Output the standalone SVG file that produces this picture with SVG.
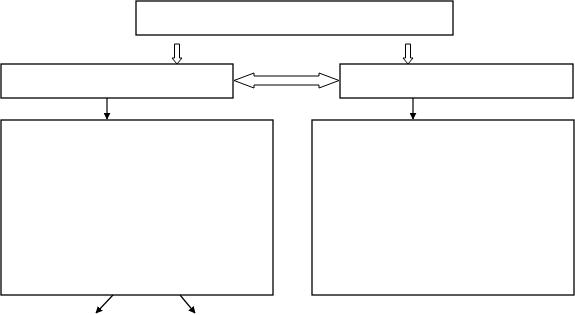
<svg xmlns="http://www.w3.org/2000/svg" width="575" height="315" viewBox="0 0 575 315">
<style>
.box{fill:#fff;stroke:#000;stroke-width:1.3}
.hollow{fill:#fff;stroke:#000;stroke-width:1}
.line{stroke:#000;stroke-width:1.2;fill:none}
</style>
<defs>
<marker id="ah" viewBox="0 0 10 10" refX="9" refY="5" markerWidth="7" markerHeight="7" markerUnits="userSpaceOnUse" orient="auto"><path d="M0,0 L10,5 L0,10 z" fill="#000"/></marker>
</defs>
<rect width="575" height="315" fill="#fff"/>
<g id="top"><rect class="box" x="136" y="1" width="317" height="34"/></g>
<g id="left"><rect class="box" x="1" y="64" width="232" height="34"/></g>
<g id="right"><rect class="box" x="340" y="64" width="233" height="34"/></g>
<g id="lowerLeft"><rect class="box" x="1" y="120" width="272" height="175"/></g>
<g id="lowerRight"><rect class="box" x="312" y="120" width="262" height="175"/></g>
<g id="connectors">
<path class="hollow" d="M174.5,44 H179.5 V58 H182 L177,64 L172,58 H174.5 Z"/>
<path class="hollow" d="M405.5,44 H410.5 V58 H413 L408,64 L403,58 H405.5 Z"/>
<path class="hollow" d="M234,80.5 L254,73 V76 H319 V73 L339,80.5 L319,88 V85 H254 V88 Z"/>
<line class="line" x1="107" y1="98" x2="107" y2="119" marker-end="url(#ah)"/>
<line class="line" x1="413" y1="98" x2="413" y2="119" marker-end="url(#ah)"/>
<line class="line" x1="113" y1="295" x2="96" y2="313" marker-end="url(#ah)"/>
<line class="line" x1="180" y1="295" x2="195" y2="313" marker-end="url(#ah)"/>
</g>
</svg>
